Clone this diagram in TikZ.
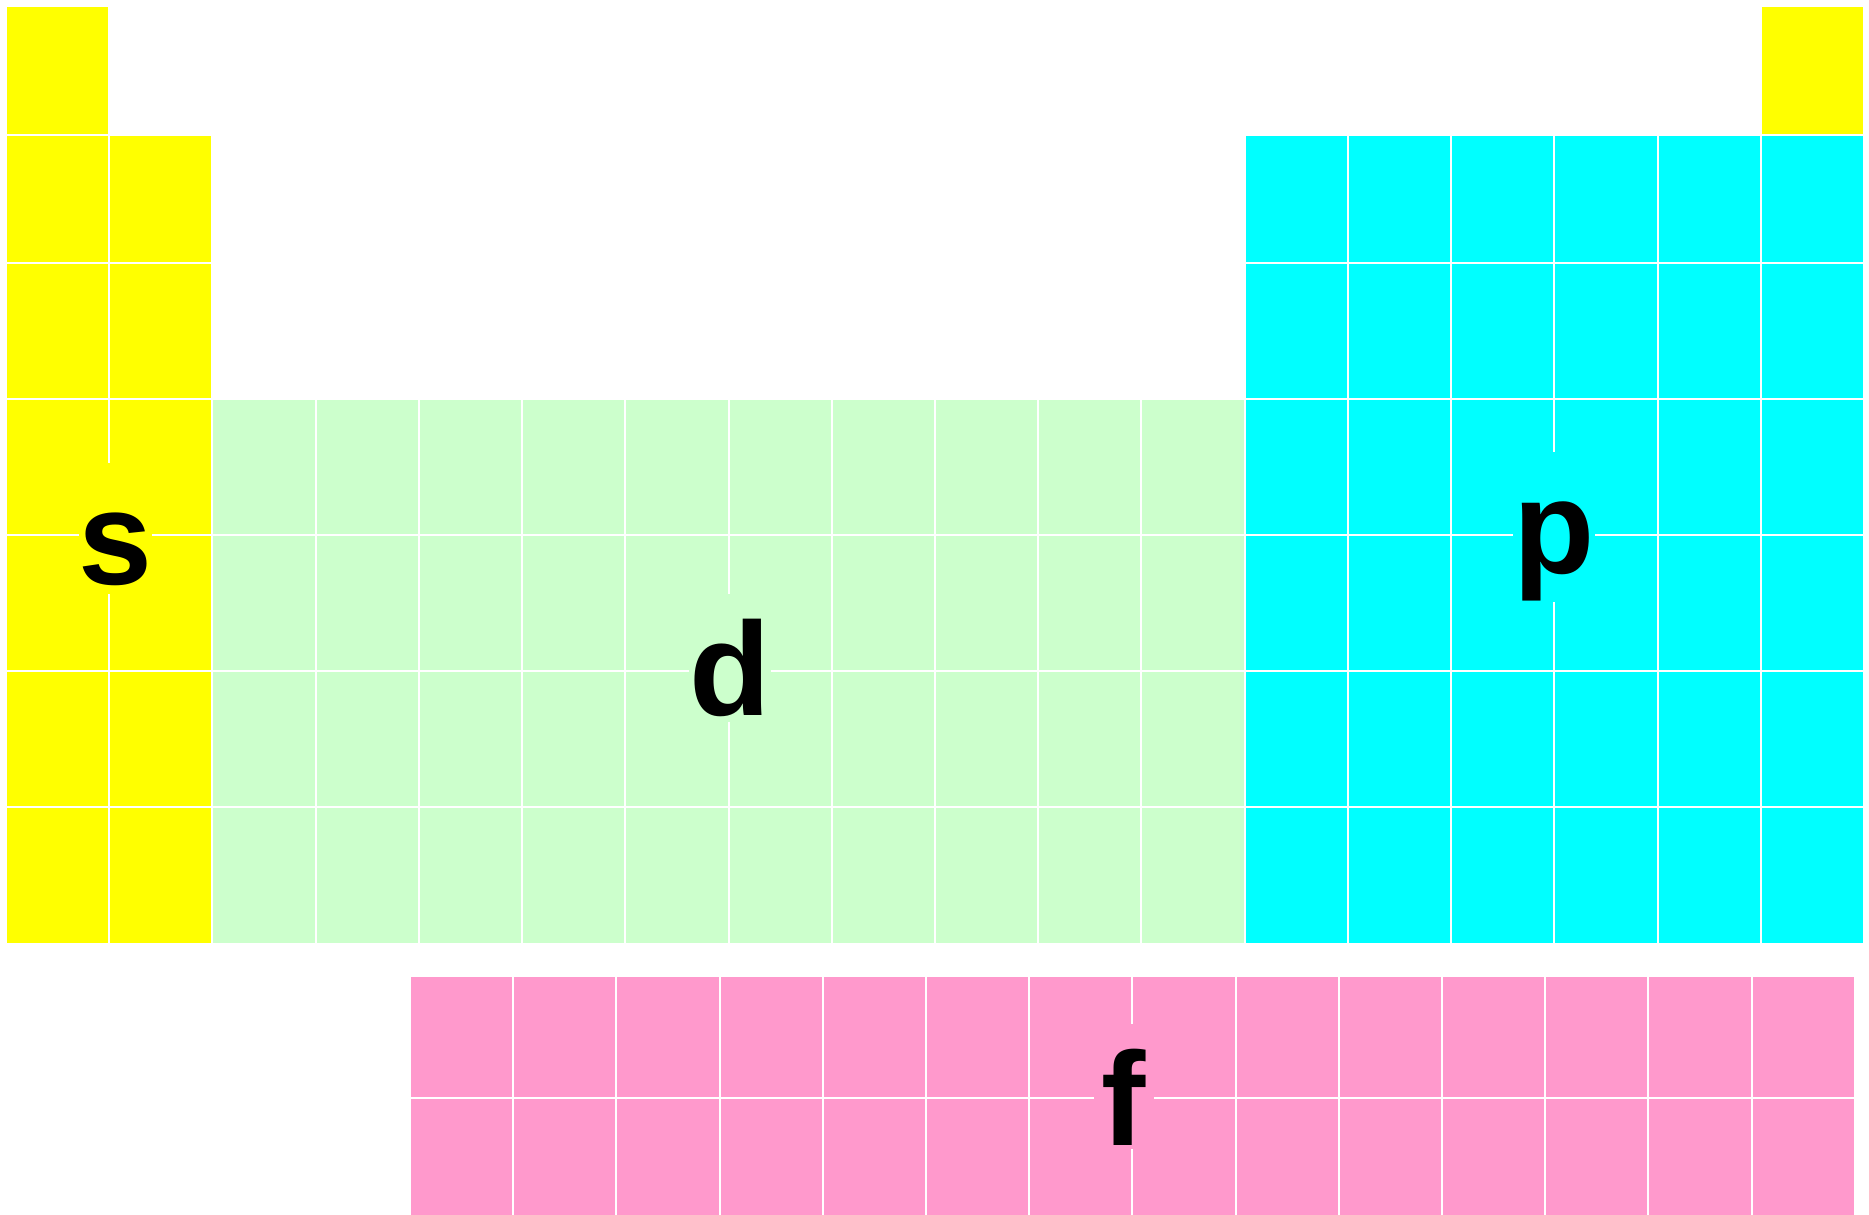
\documentclass[tikz,border=0pt]{standalone}
\usepackage{fontspec}
\setmainfont{Liberation Sans}
\definecolor{sblk}{HTML}{FFFF00}
\definecolor{pblk}{HTML}{00FFFF}
\definecolor{dblk}{HTML}{CCFFCC}
\definecolor{fblk}{HTML}{FF99CC}
\newcommand\pcell[4]{\fill[#4] ({7+(#1-1)*103.22},#2) rectangle ({7+(#1-1)*103.22+101.2},#3);}
\begin{document}
\begin{tikzpicture}[x=1pt,y=-1pt,
  lbl/.style={anchor=base, fill=#1, font=\bfseries\fontsize{133}{133}\selectfont,
    inner xsep=0pt, inner ysep=0pt, text height=121pt}]
\useasboundingbox (0,0) rectangle (1869,1215);
\fill[white] (0,0) rectangle (1869,1215);
% main table
\foreach \t/\b [count=\r] in {7/134,136/262,264/398,400/534,536/670,672/806,808/943} {
  \ifnum\r=1
    \pcell{1}{\t}{\b}{sblk}
    \pcell{18}{\t}{\b}{sblk}
  \else
    \foreach \c in {1,2} {\pcell{\c}{\t}{\b}{sblk}}
    \foreach \c in {13,...,18} {\pcell{\c}{\t}{\b}{pblk}}
    \ifnum\r>3
      \foreach \c in {3,...,12} {\pcell{\c}{\t}{\b}{dblk}}
    \fi
  \fi
}
% f block
\foreach \t/\b in {977/1097,1099/1215} {
  \foreach \c in {0,...,13} {
    \fill[fblk] ({411+\c*103.2},\t) rectangle ({411+\c*103.2+101.2},\b);
  }
}
% labels
\node[lbl=sblk, text depth=10pt] (s) at (115.5,584) {s};
\node[lbl=dblk, text depth=7pt] (d) at (730,715) {d};
\node[lbl=pblk, text depth=29pt] (p) at (1554,573) {p};
\node[lbl=fblk, text depth=4pt, inner xsep=8pt] (f) at (1124,1145) {f};
\end{tikzpicture}
\end{document}
